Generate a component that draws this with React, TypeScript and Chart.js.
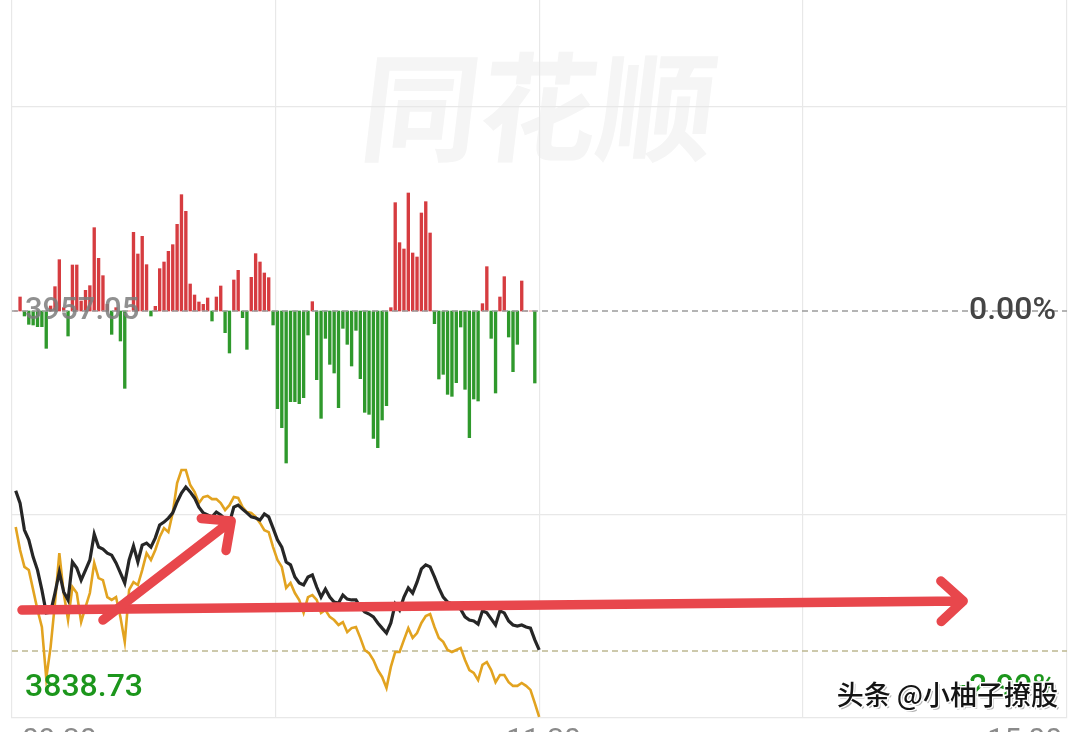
import React, { useEffect, useRef } from 'react';
import { Chart, registerables } from 'chart.js';

Chart.register(...registerables);

// ---- data ----
const timeLabels = ['09:30', '11:30', '15:00'];
const timeGridTicks = [-0.85, 59.55, 120.1, 180.45, 241];
const priceGridTicks = [3886.06, 4028.04];
const priceMin = 3815.42;
const priceMax = 4065.28;
const prevClose = 3957.05;
const lowPrice = 3838.73;
const prevCloseLabel = '3957.05';
const lowPriceLabel = '3838.73';
const zeroPctLabel = '0.00%';
const lowPctLabel = '-2.99%';
const watermarkText = '同花顺';
const creditText = '头条 @小柚子撩股';

// index price (black line), one point per minute from 09:30
const indexPrice = [
  3894.5, 3890.2, 3880.8, 3877.4, 3871.4, 3866.9, 3860.0, 3852.0, 3852.3, 3858.9,
  3866.2, 3859.3, 3856.5, 3869.7, 3867.6, 3863.4, 3866.9, 3870.4, 3879.4, 3874.9,
  3874.2, 3872.8, 3872.1, 3869.4, 3865.9, 3862.4, 3870.4, 3875.3, 3869.7, 3875.6,
  3876.3, 3874.9, 3878.1, 3882.6, 3883.6, 3885.0, 3886.8, 3890.6, 3893.7, 3895.8,
  3894.1, 3892.0, 3888.8, 3886.8, 3886.1, 3885.4, 3887.1, 3886.1, 3884.7, 3883.3,
  3888.8, 3889.5, 3888.1, 3886.8, 3885.4, 3885.0, 3884.3, 3886.4, 3885.4, 3881.5,
  3877.4, 3874.9, 3869.7, 3868.7, 3864.5, 3862.4, 3861.7, 3864.5, 3865.2, 3861.0,
  3857.5, 3860.3, 3857.5, 3855.8, 3855.4, 3858.2, 3856.8, 3856.5, 3856.5, 3854.0,
  3852.3, 3851.6, 3850.6, 3848.5, 3846.7, 3845.0, 3848.5, 3855.1, 3853.0, 3857.5,
  3860.7, 3858.9, 3862.7, 3867.3, 3868.7, 3868.0, 3864.5, 3860.7, 3857.5, 3855.8,
  3855.1, 3854.0, 3853.3, 3850.6, 3849.5, 3849.2, 3848.1, 3852.7, 3852.0, 3849.9,
  3847.8, 3852.7, 3852.0, 3849.2, 3847.8, 3847.4, 3847.8, 3847.1, 3846.7, 3842.6,
  3839.1,
];

// leading line (orange)
const leadPrice = [
  3881.9, 3873.9, 3868.0, 3866.9, 3860.0, 3853.0, 3847.1, 3829.3, 3840.1, 3855.4,
  3872.8, 3858.9, 3849.5, 3861.0, 3858.9, 3848.8, 3854.0, 3858.9, 3869.4, 3864.1,
  3863.4, 3857.5, 3856.5, 3857.5, 3850.6, 3841.9, 3860.0, 3862.7, 3861.7, 3866.9,
  3872.8, 3870.4, 3873.9, 3878.4, 3881.5, 3880.1, 3886.8, 3897.2, 3901.7, 3901.7,
  3896.5, 3894.1, 3890.2, 3892.3, 3892.7, 3891.6, 3891.6, 3890.2, 3887.8, 3889.5,
  3892.3, 3892.0, 3888.8, 3887.1, 3886.8, 3885.4, 3883.3, 3880.8, 3880.1, 3874.9,
  3870.4, 3868.0, 3860.7, 3862.4, 3858.9, 3856.5, 3852.0, 3857.5, 3858.2, 3856.5,
  3852.0, 3853.0, 3850.6, 3849.5, 3847.8, 3848.8, 3845.3, 3846.7, 3847.1, 3843.3,
  3839.1, 3838.0, 3835.6, 3832.1, 3829.7, 3825.9, 3833.2, 3838.4, 3838.4, 3842.6,
  3846.7, 3843.3, 3845.0, 3848.5, 3850.9, 3851.6, 3847.1, 3843.3, 3841.9, 3839.1,
  3838.4, 3839.1, 3839.8, 3835.6, 3832.1, 3831.1, 3828.6, 3833.9, 3834.9, 3832.1,
  3827.9, 3830.4, 3830.4, 3827.9, 3826.6, 3826.6, 3827.6, 3826.6, 3825.2, 3820.6,
  3815.8,
];

// red / green strength bars
const strengthBars = [
  0, 42, -15, -40, -42, -47, -47, -112, 15, 73,
  154, 10, -75, 138, 138, 30, 62, 76, 250, 158,
  106, 20, -70, 10, -90, -232, 0, 236, 171, 224,
  139, -15, 14, 127, 147, 179, 199, 260, 349, 299,
  81, 48, 27, 20, 39, -30, 42, 75, -65, -126,
  93, 122, -20, -115, 101, 172, 147, 114, 100, -42,
  -293, -350, -456, -272, -272, -278, -260, -72, 28, -206,
  -322, -82, -160, -186, -290, -52, -100, -165, -58, -203,
  -304, -310, -382, -410, -327, -284, 10, 325, 205, 186,
  354, 174, 162, 294, 328, 234, -38, -204, -190, -250,
  -256, -215, -48, -235, -380, -264, -270, 22, 133, -82,
  -246, 42, 103, -78, -182, -100, 90, 0, 0, -216,
];
const barMin = -1221;
const barMax = 933;

// hand-drawn arrows, in data units: [minute, price]
const trendArrowStart = [20.0, 3849.5];
const trendArrowEnd = [49.4, 3884.0];
const flatArrowStart = [1.44, 3853.0];
const flatArrowEnd = [217.2, 3856.1];

const RED = '#d63c40';
const GREEN = '#2f992c';

export default function App() {
  const ref = useRef<HTMLCanvasElement>(null);

  useEffect(() => {
    const canvas = ref.current;
    if (!canvas) return;

    const decor = {
      id: 'decor',
      beforeDraw(chart: any) {
        const ctx = chart.ctx;
        const { left, right } = chart.chartArea;
        const ys = chart.scales.y;
        ctx.save();
        ctx.fillStyle = '#f5f5f5';
        ctx.font = '700 118px "Noto Sans CJK SC"';
        ctx.textAlign = 'center';
        ctx.textBaseline = 'middle';
        ctx.translate((left + right) / 2, ys.getPixelForValue(4028.04));
        ctx.transform(1, 0, -0.12, 1, 0, 0);
        ctx.fillText(watermarkText, 0, 0);
        ctx.restore();
      },
      afterDatasetsDraw(chart: any) {
        const ctx = chart.ctx;
        const xs = chart.scales.x;
        const ys = chart.scales.y;
        const { left, right, bottom } = chart.chartArea;

        // price / percent labels
        ctx.save();
        ctx.font = '500 31px Roboto';
        ctx.textBaseline = 'middle';
        ctx.textAlign = 'left';
        ctx.fillStyle = 'rgba(125,125,125,0.85)';
        ctx.fillText(prevCloseLabel, left + 13, ys.getPixelForValue(prevClose));
        ctx.textAlign = 'right';
        ctx.fillStyle = '#454545';
        ctx.font = '500 32px Roboto';
        ctx.fillText(zeroPctLabel, right - 11, ys.getPixelForValue(prevClose));
        ctx.fillStyle = '#1c961c';
        ctx.textAlign = 'left';
        ctx.fillText(lowPriceLabel, left + 13, bottom - 30);
        ctx.textAlign = 'right';
        ctx.fillText(lowPctLabel, right - 11, bottom - 30);

        // time labels (mostly below the visible area)
        ctx.font = '30px Roboto';
        ctx.fillStyle = '#8a8a8a';
        ctx.textBaseline = 'alphabetic';
        ctx.textAlign = 'left';
        ctx.fillText(timeLabels[0], xs.getPixelForValue(timeGridTicks[0]) + 10, bottom + 31);
        ctx.textAlign = 'center';
        ctx.fillText(timeLabels[1], xs.getPixelForValue(timeGridTicks[2]) + 4, bottom + 31);
        ctx.textAlign = 'right';
        ctx.fillText(timeLabels[2], xs.getPixelForValue(timeGridTicks[4]) - 5, bottom + 31);
        ctx.restore();

        // arrows
        const drawArrow = (a: number[], b: number[]) => {
          const x0 = xs.getPixelForValue(a[0]);
          const y0 = ys.getPixelForValue(a[1]);
          const x1 = xs.getPixelForValue(b[0]);
          const y1 = ys.getPixelForValue(b[1]);
          const ang = Math.atan2(y1 - y0, x1 - x0);
          const L = 30;
          const w = 0.74;
          ctx.beginPath();
          ctx.moveTo(x0, y0);
          ctx.lineTo(x1, y1);
          ctx.moveTo(x1 - L * Math.cos(ang - w), y1 - L * Math.sin(ang - w));
          ctx.lineTo(x1, y1);
          ctx.lineTo(x1 - L * Math.cos(ang + w), y1 - L * Math.sin(ang + w));
          ctx.stroke();
        };
        ctx.save();
        ctx.strokeStyle = '#e8474c';
        ctx.lineWidth = 9.5;
        ctx.lineCap = 'round';
        ctx.lineJoin = 'round';
        drawArrow(flatArrowStart, flatArrowEnd);
        drawArrow(trendArrowStart, trendArrowEnd);
        ctx.restore();

        // credit watermark
        ctx.save();
        ctx.font = '500 27px "Noto Sans CJK SC"';
        ctx.textAlign = 'right';
        ctx.textBaseline = 'middle';
        const cx = right - 9;
        const cy = bottom - 23;
        ctx.fillStyle = 'rgba(0,0,0,0.3)';
        ctx.fillText(creditText, cx + 2, cy + 2);
        ctx.strokeStyle = '#ffffff';
        ctx.lineWidth = 3;
        ctx.strokeText(creditText, cx, cy);
        ctx.fillStyle = '#141414';
        ctx.fillText(creditText, cx, cy);
        ctx.restore();
      },
    };

    const edgeA = timeGridTicks[0];
    const edgeB = timeGridTicks[timeGridTicks.length - 1];

    const chart = new Chart(canvas, {
      type: 'bar',
      data: {
        datasets: [
          {
            type: 'line',
            label: '指数',
            data: indexPrice.map((v, i) => ({ x: i, y: v })),
            borderColor: '#262626',
            borderWidth: 3.2,
            pointRadius: 0,
            tension: 0,
            yAxisID: 'y',
            order: 1,
          },
          {
            type: 'line',
            label: '领先',
            data: leadPrice.map((v, i) => ({ x: i, y: v })),
            borderColor: '#e2a320',
            borderWidth: 2.6,
            pointRadius: 0,
            tension: 0,
            yAxisID: 'y',
            order: 2,
          },
          {
            type: 'line',
            label: 'prev',
            data: [
              { x: edgeA, y: prevClose },
              { x: edgeB, y: prevClose },
            ],
            borderColor: '#9c9c9c',
            borderWidth: 1.5,
            borderDash: [6, 4],
            pointRadius: 0,
            yAxisID: 'y',
            order: 3,
          },
          {
            type: 'line',
            label: 'low',
            data: [
              { x: edgeA, y: lowPrice },
              { x: edgeB, y: lowPrice },
            ],
            borderColor: '#bdb891',
            borderWidth: 1.5,
            borderDash: [6, 4],
            pointRadius: 0,
            yAxisID: 'y',
            order: 3,
          },
          {
            type: 'bar',
            label: 'strength',
            data: strengthBars.map((v, i) => ({ x: i, y: v })),
            backgroundColor: strengthBars.map((v) => (v >= 0 ? RED : GREEN)),
            barThickness: 2.7,
            yAxisID: 'yBar',
            order: 4,
          } as any,
        ],
      },
      options: {
        animation: false,
        responsive: false,
        layout: { padding: { left: 12, right: 13, top: 0, bottom: 42 } },
        plugins: { legend: { display: false }, tooltip: { enabled: false } },
        scales: {
          x: {
            type: 'linear',
            min: edgeA,
            max: edgeB,
            offset: false,
            afterBuildTicks: (s: any) => {
              s.ticks = timeGridTicks.map((v) => ({ value: v }));
            },
            ticks: { display: false },
            grid: { color: '#e8e8e8', lineWidth: 1.2, drawTicks: false, offset: false },
            border: { display: true, color: '#e8e8e8', width: 1.2 },
          },
          y: {
            type: 'linear',
            position: 'left',
            min: priceMin,
            max: priceMax,
            afterBuildTicks: (s: any) => {
              s.ticks = priceGridTicks.map((v) => ({ value: v }));
            },
            ticks: { display: false },
            grid: { color: '#e8e8e8', lineWidth: 1.2, drawTicks: false },
            border: { display: false },
          },
          yBar: {
            type: 'linear',
            display: false,
            min: barMin,
            max: barMax,
          },
        },
      } as any,
      plugins: [decor],
    });

    return () => chart.destroy();
  }, []);

  return (
    <div
      style={{
        position: 'fixed',
        left: 0,
        top: 0,
        width: 1080,
        height: 732,
        overflow: 'hidden',
        background: '#ffffff',
      }}
    >
      <canvas ref={ref} width={1080} height={760} style={{ display: 'block' }} />
    </div>
  );
}
